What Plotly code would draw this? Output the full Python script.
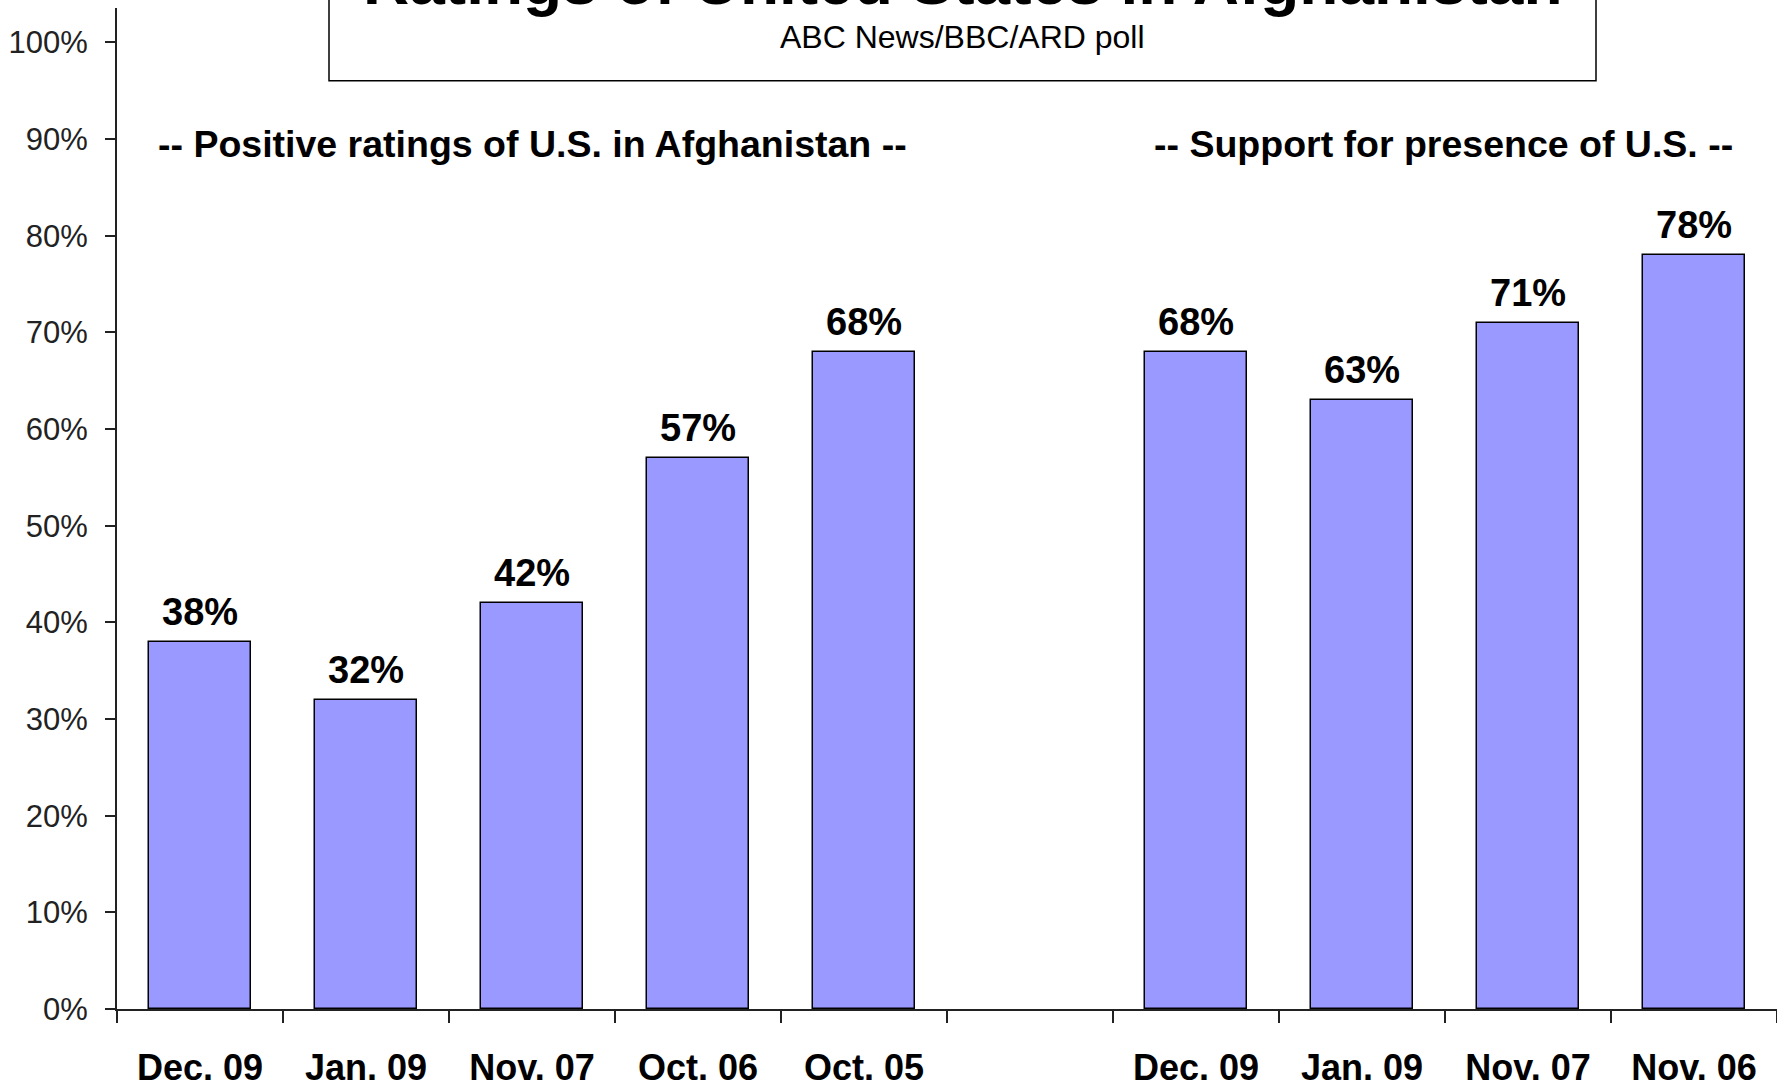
import plotly.graph_objects as go

# ---- data ----
left_labels = ["Dec. 09", "Jan. 09", "Nov. 07", "Oct. 06", "Oct. 05"]
left_values = [38, 32, 42, 57, 68]
right_labels = ["Dec. 09", "Jan. 09", "Nov. 07", "Nov. 06"]
right_values = [68, 63, 71, 78]
left_pos = [0, 1, 2, 3, 4]
right_pos = [6, 7, 8, 9]
y_ticks = [0, 10, 20, 30, 40, 50, 60, 70, 80, 90, 100]

title_text = "Ratings of United States in Afghanistan"
subtitle_text = "ABC News/BBC/ARD poll"
left_header = "-- Positive ratings of U.S. in Afghanistan --"
right_header = "-- Support for presence of U.S. --"

FONT = "Liberation Sans, Arial, sans-serif"
BAR = "#9999FF"

W, H = 1777, 1088
ML, MR, MT, MB = 117, 0, 8, 76
plot_h = H - MT - MB
y_top = 100 * plot_h / 969.5

fig = go.Figure()
for xs, vs in [(left_pos, left_values), (right_pos, right_values)]:
    fig.add_trace(go.Bar(
        x=xs, y=vs, width=0.61,
        marker=dict(color=BAR, line=dict(color="#000000", width=1.5)),
        showlegend=False, hoverinfo="skip",
    ))

annotations = []
for xs, vs in [(left_pos, left_values), (right_pos, right_values)]:
    for x, v in zip(xs, vs):
        annotations.append(dict(
            x=x, y=v, xref="x", yref="y", text=f"{v}%", showarrow=False,
            yanchor="bottom", yshift=7,
            font=dict(family=FONT, size=38, color="#000000", weight="bold"),
        ))

annotations.append(dict(x=2.0, y=89.5, xref="x", yref="y", text=left_header,
                        showarrow=False, yanchor="middle",
                        font=dict(family=FONT, size=37.5, color="#000000", weight="bold")))
annotations.append(dict(x=7.49, y=89.5, xref="x", yref="y", text=right_header,
                        showarrow=False, yanchor="middle",
                        font=dict(family=FONT, size=37.5, color="#000000", weight="bold")))

def py(px):
    return (H - MB - px) / plot_h

# title box content
annotations.append(dict(x=(962 - ML) / (W - ML), y=py(20), xref="paper", yref="paper",
                        text=title_text, showarrow=False, yanchor="bottom",
                        font=dict(family=FONT, size=64, color="#000000", weight="bold")))
annotations.append(dict(x=(963 - ML) / (W - ML), y=py(37), xref="paper", yref="paper",
                        text=subtitle_text, showarrow=False, yanchor="middle",
                        font=dict(family=FONT, size=32, color="#000000")))

shapes = [dict(type="rect", xref="paper", yref="paper",
               x0=(329 - ML) / (W - ML), x1=(1596 - ML) / (W - ML),
               y0=py(81), y1=py(-20),
               line=dict(color="#000000", width=1.5), fillcolor="white", layer="below")]

tick_vals = left_pos + right_pos
tick_text = left_labels + right_labels

fig.update_layout(
    width=W, height=H,
    margin=dict(l=ML, r=MR, t=MT, b=MB),
    paper_bgcolor="white", plot_bgcolor="white",
    bargap=0,
    annotations=annotations,
    shapes=shapes,
    xaxis=dict(
        range=[-0.5, 9.5], tickmode="array", tickvals=tick_vals, ticktext=tick_text,
        ticks="outside", ticklen=26, tickcolor="rgba(0,0,0,0)",
        tickfont=dict(family=FONT, size=36, color="#000000", weight="bold"),
        showline=True, linecolor="#222222", linewidth=2,
        showgrid=False, zeroline=False,
        minor=dict(tick0=-0.5, dtick=1, ticks="outside", ticklen=12,
                   tickcolor="#222222", tickwidth=1.5, showgrid=False),
    ),
    yaxis=dict(
        range=[0, y_top], tickmode="array", tickvals=y_ticks,
        ticktext=[f"{v}%" for v in y_ticks],
        ticks="outside", ticklen=10, tickcolor="#222222", tickwidth=1.5,
        ticklabelstandoff=11,
        tickfont=dict(family=FONT, size=31, color="#222222"),
        showline=True, linecolor="#222222", linewidth=2,
        showgrid=False, zeroline=False,
    ),
)

fig.write_html("out.html", config={"displayModeBar": False},
               post_script="document.body.style.margin='0';document.body.style.overflow='hidden';")
